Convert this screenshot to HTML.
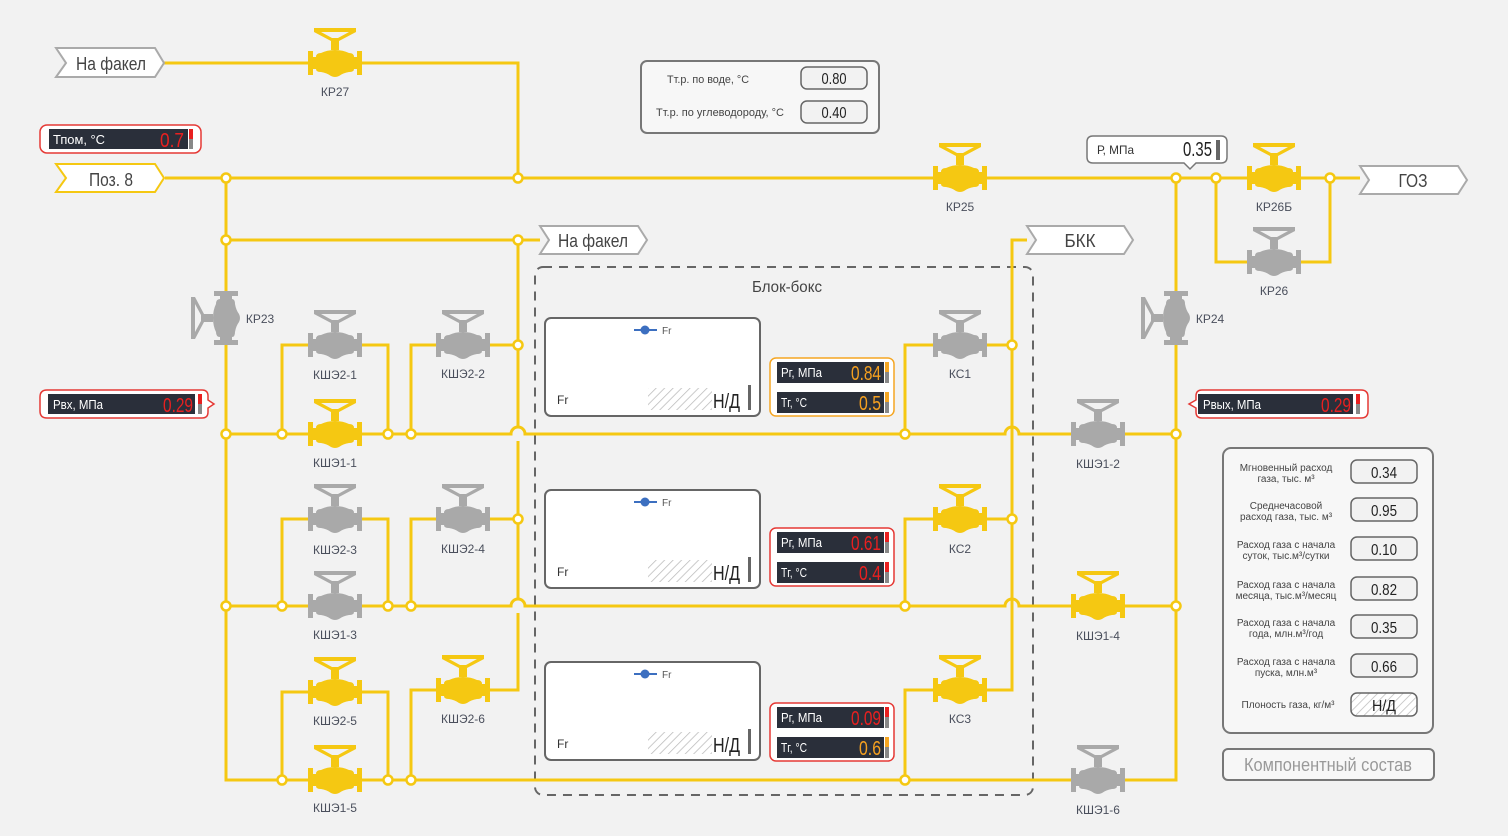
<!DOCTYPE html>
<html><head><meta charset="utf-8">
<style>
html,body{margin:0;padding:0;background:#f2f2f2;}
svg{display:block;}
text{font-family:"Liberation Sans","Noto Sans CJK SC",sans-serif;}
</style></head><body>
<svg width="1508" height="836" viewBox="0 0 1508 836" xmlns="http://www.w3.org/2000/svg">
<defs>
<g id="vY" fill="#f5c812">
 <rect x="-27" y="-12" width="5" height="24"/><rect x="22" y="-12" width="5" height="24"/>
 <path d="M-22,-6 L-19,-6 Q-19,-10 -14,-10 Q-8,-13 0,-13 Q8,-13 14,-10 Q19,-10 19,-6 L22,-6 L22,6 L19,6 Q19,9 14,9 Q8,10 4,13 Q0,15 -4,13 Q-8,10 -14,9 Q-19,9 -19,6 L-22,6 Z"/>
 <rect x="-4" y="-22" width="8" height="9"/>
 <path fill-rule="evenodd" d="M-21,-35 L21,-35 L21,-31 L4,-22 L-4,-22 L-21,-31 Z M-14,-31 L14,-31 L3,-25 L-3,-25 Z"/>
</g>
<g id="vG" fill="#a9a9a9">
 <rect x="-27" y="-12" width="5" height="24"/><rect x="22" y="-12" width="5" height="24"/>
 <path d="M-22,-6 L-19,-6 Q-19,-10 -14,-10 Q-8,-13 0,-13 Q8,-13 14,-10 Q19,-10 19,-6 L22,-6 L22,6 L19,6 Q19,9 14,9 Q8,10 4,13 Q0,15 -4,13 Q-8,10 -14,9 Q-19,9 -19,6 L-22,6 Z"/>
 <rect x="-4" y="-22" width="8" height="9"/>
 <path fill-rule="evenodd" d="M-21,-35 L21,-35 L21,-31 L4,-22 L-4,-22 L-21,-31 Z M-14,-31 L14,-31 L3,-25 L-3,-25 Z"/>
</g>
<pattern id="hatch" width="6" height="6" patternUnits="userSpaceOnUse" patternTransform="rotate(45)">
 <rect width="6" height="6" fill="#fff"/><line x1="0" y1="0" x2="0" y2="6" stroke="#bbb" stroke-width="1.5"/>
</pattern>
</defs>

<rect x="535" y="267" width="498" height="528" rx="8" fill="none" stroke="#666" stroke-width="2" stroke-dasharray="9,7"/>
<text x="787" y="292" font-size="16" fill="#444" text-anchor="middle" textLength="70" lengthAdjust="spacingAndGlyphs">Блок-бокс</text>

<g fill="none" stroke="#f5c812" stroke-width="3">
 <path d="M163,63 H518 V178"/>
 <path d="M165,178 H1360"/>
 <path d="M1216,178 V262 H1330 V178"/>
 <path d="M226,178 V780 H282"/>
 <path d="M226,240 H540"/>
 <path d="M518,240 V427 M518,441 V599 M518,613 V690 H411 V780"/>
 <path d="M226,434 H511 A7,7 0 0 1 525,434 H1005 A7,7 0 0 1 1019,434 H1176"/>
 <path d="M282,434 V345 H388 V434"/>
 <path d="M411,434 V345 H518"/>
 <path d="M226,606 H511 A7,7 0 0 1 525,606 H1005 A7,7 0 0 1 1019,606 H1176"/>
 <path d="M282,606 V519 H388 V606"/>
 <path d="M411,606 V519 H518"/>
 <path d="M282,780 H1176 V178"/>
 <path d="M282,780 V692 H388 V780"/>
 <path d="M1027,240 H1012 V690 H905 V780"/>
 <path d="M905,434 V345 H1012"/>
 <path d="M905,606 V519 H1012"/>
</g>

<g fill="#fff" stroke="#f5c812" stroke-width="2.5">
 <circle cx="226" cy="178" r="4.5"/><circle cx="518" cy="178" r="4.5"/><circle cx="1176" cy="178" r="4.5"/>
 <circle cx="1216" cy="178" r="4.5"/><circle cx="1330" cy="178" r="4.5"/>
 <circle cx="226" cy="240" r="4.5"/><circle cx="518" cy="240" r="4.5"/>
 <circle cx="226" cy="434" r="4.5"/><circle cx="282" cy="434" r="4.5"/><circle cx="388" cy="434" r="4.5"/><circle cx="411" cy="434" r="4.5"/>
 <circle cx="518" cy="345" r="4.5"/><circle cx="518" cy="519" r="4.5"/>
 <circle cx="226" cy="606" r="4.5"/><circle cx="282" cy="606" r="4.5"/><circle cx="388" cy="606" r="4.5"/><circle cx="411" cy="606" r="4.5"/>
 <circle cx="282" cy="780" r="4.5"/><circle cx="388" cy="780" r="4.5"/><circle cx="411" cy="780" r="4.5"/>
 <circle cx="905" cy="434" r="4.5"/><circle cx="905" cy="606" r="4.5"/><circle cx="905" cy="780" r="4.5"/>
 <circle cx="1012" cy="345" r="4.5"/><circle cx="1012" cy="519" r="4.5"/>
 <circle cx="1176" cy="434" r="4.5"/><circle cx="1176" cy="606" r="4.5"/>
</g>

<use href="#vY" x="335" y="63"/>
<use href="#vY" x="960" y="178"/>
<use href="#vY" x="1274" y="178"/>
<use href="#vG" x="1274" y="262"/>
<g transform="translate(226,318) rotate(-90)"><use href="#vG"/></g>
<g transform="translate(1176,318) rotate(-90)"><use href="#vG"/></g>
<use href="#vG" x="335" y="345"/>
<use href="#vG" x="463" y="345"/>
<use href="#vY" x="335" y="434"/>
<use href="#vG" x="335" y="519"/>
<use href="#vG" x="463" y="519"/>
<use href="#vG" x="335" y="606"/>
<use href="#vY" x="335" y="692"/>
<use href="#vY" x="463" y="690"/>
<use href="#vY" x="335" y="780"/>
<use href="#vG" x="960" y="345"/>
<use href="#vY" x="960" y="519"/>
<use href="#vY" x="960" y="690"/>
<use href="#vG" x="1098" y="434"/>
<use href="#vY" x="1098" y="606"/>
<use href="#vG" x="1098" y="780"/>

<g font-size="12" fill="#4a4f5c" text-anchor="middle">
 <text x="335" y="96">КР27</text>
 <text x="960" y="211">КР25</text>
 <text x="1274" y="211">КР26Б</text>
 <text x="1274" y="295">КР26</text>
 <text x="260" y="323">КР23</text>
 <text x="1210" y="323">КР24</text>
 <text x="335" y="379">КШЭ2-1</text>
 <text x="463" y="378">КШЭ2-2</text>
 <text x="335" y="467">КШЭ1-1</text>
 <text x="335" y="554">КШЭ2-3</text>
 <text x="463" y="553">КШЭ2-4</text>
 <text x="335" y="639">КШЭ1-3</text>
 <text x="335" y="725">КШЭ2-5</text>
 <text x="463" y="723">КШЭ2-6</text>
 <text x="335" y="812">КШЭ1-5</text>
 <text x="960" y="378">КС1</text>
 <text x="960" y="553">КС2</text>
 <text x="960" y="723">КС3</text>
 <text x="1098" y="468">КШЭ1-2</text>
 <text x="1098" y="640">КШЭ1-4</text>
 <text x="1098" y="814">КШЭ1-6</text>
</g>

<g stroke-width="2" font-size="18" text-anchor="middle" fill="#444">
 <polygon points="56,48 155,48 164,63 155,77 56,77 66,63" fill="#fff" stroke="#aaa"/>
 <text x="111" y="70" stroke="none" textLength="70" lengthAdjust="spacingAndGlyphs">На факел</text>
 <polygon points="56,164 155,164 164,178 155,192 56,192 66,178" fill="#fff" stroke="#f5c812"/>
 <text x="111" y="186" stroke="none" textLength="44" lengthAdjust="spacingAndGlyphs">Поз. 8</text>
 <polygon points="540,226 638,226 647,240 638,254 540,254 549,240" fill="#fff" stroke="#aaa"/>
 <text x="593" y="247" stroke="none" textLength="70" lengthAdjust="spacingAndGlyphs">На факел</text>
 <polygon points="1027,226 1124,226 1133,240 1124,254 1027,254 1036,240" fill="#fff" stroke="#aaa"/>
 <text x="1080" y="247" stroke="none" textLength="31" lengthAdjust="spacingAndGlyphs">БКК</text>
 <polygon points="1360,166 1458,166 1467,180 1458,194 1360,194 1369,180" fill="#fff" stroke="#aaa"/>
 <text x="1413" y="187" stroke="none" textLength="29" lengthAdjust="spacingAndGlyphs">ГОЗ</text>
</g>

<rect x="40" y="125" width="161" height="28" rx="7" fill="#fff" stroke="#e53935" stroke-width="1.5"/>
<rect x="49" y="129" width="139" height="20" fill="#2a2f3a"/>
<text x="53" y="144" font-size="13" fill="#fff" textLength="52" lengthAdjust="spacingAndGlyphs">Тпом, °С</text>
<text x="184" y="147" font-size="20" fill="#e82020" text-anchor="end" textLength="24" lengthAdjust="spacingAndGlyphs">0.7</text>
<rect x="189" y="129" width="4" height="10" fill="#e82020"/><rect x="189" y="139" width="4" height="10" fill="#888"/>

<path d="M47,390 H202 Q208,390 208,396 V400 L214,404 L208,408 V412 Q208,418 202,418 H47 Q40,418 40,411 V397 Q40,390 47,390 Z" fill="#fff" stroke="#e53935" stroke-width="1.5"/>
<rect x="48" y="394" width="147" height="20" fill="#2a2f3a"/>
<text x="53" y="409" font-size="13" fill="#fff" textLength="50" lengthAdjust="spacingAndGlyphs">Рвх, МПа</text>
<text x="193" y="412" font-size="20" fill="#e82020" text-anchor="end" textLength="30" lengthAdjust="spacingAndGlyphs">0.29</text>
<rect x="198" y="394" width="4" height="10" fill="#e82020"/><rect x="198" y="404" width="4" height="10" fill="#888"/>

<path d="M1202,390 H1361 Q1368,390 1368,397 V411 Q1368,418 1361,418 H1202 Q1196,418 1196,412 V408 L1189,404 L1196,400 V396 Q1196,390 1202,390 Z" fill="#fff" stroke="#e53935" stroke-width="1.5"/>
<rect x="1198" y="394" width="155" height="20" fill="#2a2f3a"/>
<text x="1203" y="409" font-size="13" fill="#fff" textLength="58" lengthAdjust="spacingAndGlyphs">Рвых, МПа</text>
<text x="1351" y="412" font-size="20" fill="#e82020" text-anchor="end" textLength="30" lengthAdjust="spacingAndGlyphs">0.29</text>
<rect x="1356" y="394" width="4" height="10" fill="#e82020"/><rect x="1356" y="404" width="4" height="10" fill="#888"/>

<path d="M1093,136 H1221 Q1227,136 1227,142 V157 Q1227,163 1221,163 H1196 L1190,169 L1184,163 H1093 Q1087,163 1087,157 V142 Q1087,136 1093,136 Z" fill="#fff" stroke="#777" stroke-width="1.5"/>
<text x="1097" y="154" font-size="12" fill="#333" textLength="37" lengthAdjust="spacingAndGlyphs">Р, МПа</text>
<text x="1212" y="156" font-size="20" fill="#222" text-anchor="end" textLength="29" lengthAdjust="spacingAndGlyphs">0.35</text>
<rect x="1216" y="140" width="4" height="20" fill="#666"/>

<rect x="641" y="61" width="238" height="72" rx="6" fill="#f7f7f7" stroke="#777" stroke-width="2"/>
<g font-size="11" fill="#444" text-anchor="middle">
 <text x="708" y="83" textLength="82" lengthAdjust="spacingAndGlyphs">Тт.р. по воде, °С</text>
 <text x="720" y="116" textLength="128" lengthAdjust="spacingAndGlyphs">Тт.р. по углеводороду, °С</text>
</g>
<rect x="801" y="67" width="66" height="22" rx="6" fill="#f2f2f2" stroke="#666" stroke-width="1.5"/>
<rect x="801" y="101" width="66" height="22" rx="6" fill="#f2f2f2" stroke="#666" stroke-width="1.5"/>
<g font-size="16" fill="#222" text-anchor="middle"><text x="834" y="84" textLength="25" lengthAdjust="spacingAndGlyphs">0.80</text><text x="834" y="118" textLength="25" lengthAdjust="spacingAndGlyphs">0.40</text></g>

<g>
 <rect x="545" y="318" width="215" height="98" rx="6" fill="#fff" stroke="#666" stroke-width="2"/>
 <rect x="545" y="490" width="215" height="98" rx="6" fill="#fff" stroke="#666" stroke-width="2"/>
 <rect x="545" y="662" width="215" height="98" rx="6" fill="#fff" stroke="#666" stroke-width="2"/>
</g>
<g>
 <g>
  <line x1="634" y1="330" x2="657" y2="330" stroke="#3c6fc0" stroke-width="2"/><circle cx="645" cy="330" r="4.5" fill="#3c6fc0"/>
  <text x="662" y="334" font-size="10" fill="#555">Fr</text>
  <text x="557" y="404" font-size="12" fill="#333">Fr</text>
  <rect x="648" y="388" width="64" height="22" fill="url(#hatch)"/>
  <text x="740" y="408" font-size="20" fill="#222" text-anchor="end" textLength="27" lengthAdjust="spacingAndGlyphs">Н/Д</text>
  <rect x="748" y="385" width="3" height="25" fill="#666"/>
 </g>
 <g transform="translate(0,172)">
  <line x1="634" y1="330" x2="657" y2="330" stroke="#3c6fc0" stroke-width="2"/><circle cx="645" cy="330" r="4.5" fill="#3c6fc0"/>
  <text x="662" y="334" font-size="10" fill="#555">Fr</text>
  <text x="557" y="404" font-size="12" fill="#333">Fr</text>
  <rect x="648" y="388" width="64" height="22" fill="url(#hatch)"/>
  <text x="740" y="408" font-size="20" fill="#222" text-anchor="end" textLength="27" lengthAdjust="spacingAndGlyphs">Н/Д</text>
  <rect x="748" y="385" width="3" height="25" fill="#666"/>
 </g>
 <g transform="translate(0,344)">
  <line x1="634" y1="330" x2="657" y2="330" stroke="#3c6fc0" stroke-width="2"/><circle cx="645" cy="330" r="4.5" fill="#3c6fc0"/>
  <text x="662" y="334" font-size="10" fill="#555">Fr</text>
  <text x="557" y="404" font-size="12" fill="#333">Fr</text>
  <rect x="648" y="388" width="64" height="22" fill="url(#hatch)"/>
  <text x="740" y="408" font-size="20" fill="#222" text-anchor="end" textLength="27" lengthAdjust="spacingAndGlyphs">Н/Д</text>
  <rect x="748" y="385" width="3" height="25" fill="#666"/>
 </g>
</g>

<g>
 <rect x="770" y="358" width="124" height="58" rx="6" fill="#fff" stroke="#f5a623" stroke-width="1.5"/>
 <rect x="777" y="362" width="107" height="21" fill="#2a2f3a"/><rect x="777" y="392" width="107" height="21" fill="#2a2f3a"/>
 <text x="781" y="377" font-size="13" fill="#fff" textLength="41" lengthAdjust="spacingAndGlyphs">Рг, МПа</text>
 <text x="781" y="407" font-size="13" fill="#fff" textLength="26" lengthAdjust="spacingAndGlyphs">Тг, °С</text>
 <text x="881" y="380" font-size="20" fill="#f5a020" text-anchor="end" textLength="30" lengthAdjust="spacingAndGlyphs">0.84</text>
 <text x="881" y="410" font-size="20" fill="#f5a020" text-anchor="end" textLength="22" lengthAdjust="spacingAndGlyphs">0.5</text>
 <rect x="885" y="362" width="4" height="10" fill="#f5a623"/><rect x="885" y="372" width="4" height="11" fill="#888"/>
 <rect x="885" y="392" width="4" height="10" fill="#f5a623"/><rect x="885" y="402" width="4" height="11" fill="#888"/>
</g>
<g>
 <rect x="770" y="528" width="124" height="58" rx="6" fill="#fff" stroke="#e53935" stroke-width="1.5"/>
 <rect x="777" y="532" width="107" height="21" fill="#2a2f3a"/><rect x="777" y="562" width="107" height="21" fill="#2a2f3a"/>
 <text x="781" y="547" font-size="13" fill="#fff" textLength="41" lengthAdjust="spacingAndGlyphs">Рг, МПа</text>
 <text x="781" y="577" font-size="13" fill="#fff" textLength="26" lengthAdjust="spacingAndGlyphs">Тг, °С</text>
 <text x="881" y="550" font-size="20" fill="#e82020" text-anchor="end" textLength="30" lengthAdjust="spacingAndGlyphs">0.61</text>
 <text x="881" y="580" font-size="20" fill="#e82020" text-anchor="end" textLength="22" lengthAdjust="spacingAndGlyphs">0.4</text>
 <rect x="885" y="532" width="4" height="10" fill="#e82020"/><rect x="885" y="542" width="4" height="11" fill="#888"/>
 <rect x="885" y="562" width="4" height="10" fill="#e82020"/><rect x="885" y="572" width="4" height="11" fill="#888"/>
</g>
<g>
 <rect x="770" y="703" width="124" height="58" rx="6" fill="#fff" stroke="#e53935" stroke-width="1.5"/>
 <rect x="777" y="707" width="107" height="21" fill="#2a2f3a"/><rect x="777" y="737" width="107" height="21" fill="#2a2f3a"/>
 <text x="781" y="722" font-size="13" fill="#fff" textLength="41" lengthAdjust="spacingAndGlyphs">Рг, МПа</text>
 <text x="781" y="752" font-size="13" fill="#fff" textLength="26" lengthAdjust="spacingAndGlyphs">Тг, °С</text>
 <text x="881" y="725" font-size="20" fill="#e82020" text-anchor="end" textLength="30" lengthAdjust="spacingAndGlyphs">0.09</text>
 <text x="881" y="755" font-size="20" fill="#f5a020" text-anchor="end" textLength="22" lengthAdjust="spacingAndGlyphs">0.6</text>
 <rect x="885" y="707" width="4" height="10" fill="#e82020"/><rect x="885" y="717" width="4" height="11" fill="#888"/>
 <rect x="885" y="737" width="4" height="10" fill="#f5a623"/><rect x="885" y="747" width="4" height="11" fill="#888"/>
</g>

<rect x="1223" y="448" width="210" height="285" rx="8" fill="#f7f7f7" stroke="#777" stroke-width="2"/>
<g font-size="10" fill="#444" text-anchor="middle">
 <text x="1286" y="471">Мгновенный расход</text><text x="1286" y="482">газа, тыс. м³</text>
 <text x="1286" y="509">Среднечасовой</text><text x="1286" y="520">расход газа, тыс. м³</text>
 <text x="1286" y="548">Расход газа с начала</text><text x="1286" y="559">суток, тыс.м³/сутки</text>
 <text x="1286" y="588">Расход газа с начала</text><text x="1286" y="599">месяца, тыс.м³/месяц</text>
 <text x="1286" y="626">Расход газа с начала</text><text x="1286" y="637">года, млн.м³/год</text>
 <text x="1286" y="665">Расход газа с начала</text><text x="1286" y="676">пуска, млн.м³</text>
 <text x="1288" y="708">Плоность газа, кг/м³</text>
</g>
<g fill="#f2f2f2" stroke="#666" stroke-width="1.5">
 <rect x="1351" y="460" width="66" height="23" rx="6"/>
 <rect x="1351" y="498" width="66" height="23" rx="6"/>
 <rect x="1351" y="537" width="66" height="23" rx="6"/>
 <rect x="1351" y="577" width="66" height="23" rx="6"/>
 <rect x="1351" y="615" width="66" height="23" rx="6"/>
 <rect x="1351" y="654" width="66" height="23" rx="6"/>
 <rect x="1351" y="693" width="66" height="23" rx="6" fill="url(#hatch)"/>
</g>
<g font-size="16" fill="#222" text-anchor="middle">
 <text x="1384" y="478" textLength="26" lengthAdjust="spacingAndGlyphs">0.34</text><text x="1384" y="516" textLength="26" lengthAdjust="spacingAndGlyphs">0.95</text><text x="1384" y="555" textLength="26" lengthAdjust="spacingAndGlyphs">0.10</text>
 <text x="1384" y="595" textLength="26" lengthAdjust="spacingAndGlyphs">0.82</text><text x="1384" y="633" textLength="26" lengthAdjust="spacingAndGlyphs">0.35</text><text x="1384" y="672" textLength="26" lengthAdjust="spacingAndGlyphs">0.66</text>
 <text x="1384" y="711" textLength="24" lengthAdjust="spacingAndGlyphs">Н/Д</text>
</g>
<rect x="1223" y="749" width="211" height="31" rx="5" fill="#f7f7f7" stroke="#777" stroke-width="2"/>
<text x="1328" y="771" font-size="18" fill="#999" text-anchor="middle" textLength="168" lengthAdjust="spacingAndGlyphs">Компонентный состав</text>
</svg>
</body></html>
